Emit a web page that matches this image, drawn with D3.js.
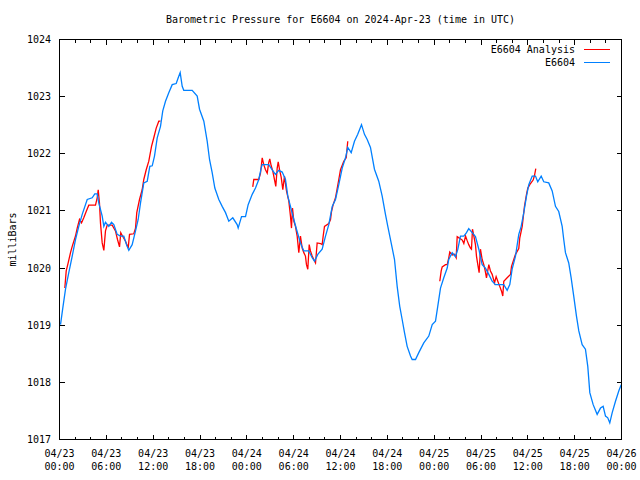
<!DOCTYPE html>
<html><head><meta charset="utf-8">
<script src="https://cdn.jsdelivr.net/npm/d3@7"></script>
<style>
body{margin:0;background:#fff;}
text{font-family:"DejaVu Sans Mono","Liberation Mono",monospace;font-size:10px;fill:#000;}
</style></head>
<body><svg id="c" width="640" height="480"></svg>
<script>
// hours since 2024-04-23 00:00 UTC
const stationHours = [0.13,0.42,0.77,1.19,1.63,2.05,2.47,2.91,3.55,4.19,4.52,4.83,5.03,5.47,5.68,5.89,6.32,6.66,6.96,7.39,7.81,8.24,8.58,8.88,9.31,9.74,10.08,10.38,10.80,11.24,11.57,11.88,12.17,12.52,12.94,13.23,13.58,14.00,14.44,14.95,15.21,15.46,15.72,15.92,17.00,17.64,17.94,18.49,18.92,19.22,19.56,19.90,20.41,20.84,21.27,21.69,22.20,22.76,22.89,23.32,23.83,24.17,24.69,25.11,25.53,25.84,25.97,26.81,27.25,27.67,28.09,28.53,28.95,29.25,29.59,30.02,30.36,30.87,31.30,31.94,32.37,32.67,33.09,33.65,34.08,34.50,34.94,35.36,35.78,36.22,36.64,36.93,37.37,37.79,38.21,38.69,39.07,39.42,39.84,40.35,40.90,41.34,41.76,42.06,42.49,42.92,43.26,43.59,43.90,44.20,44.54,44.97,45.18,45.61,46.03,46.67,47.31,47.75,48.17,48.46,48.81,49.23,49.67,49.87,50.31,50.73,51.03,51.37,51.80,52.14,52.43,52.87,53.29,53.72,54.15,54.57,55.00,55.43,55.85,56.92,57.35,57.69,57.99,58.42,58.84,59.15,59.48,59.83,60.12,60.56,60.98,61.27,61.71,62.04,62.68,63.12,63.54,63.96,64.40,64.60,64.82,65.24,65.55,65.88,66.23,66.53,66.96,67.38,67.68,67.94,68.37,68.88,69.31,69.65,69.95,70.24,70.50,70.81,71.23,71.65,71.96];
const stationPressure = [1019.01,1019.30,1019.63,1019.92,1020.21,1020.50,1020.73,1020.94,1021.20,1021.23,1021.30,1021.30,1021.14,1020.91,1020.73,1020.80,1020.73,1020.80,1020.76,1020.59,1020.56,1020.56,1020.41,1020.31,1020.41,1020.65,1020.85,1021.14,1021.49,1021.52,1021.78,1021.79,1021.96,1022.28,1022.48,1022.75,1022.92,1023.07,1023.21,1023.23,1023.33,1023.42,1023.18,1023.11,1023.11,1023.01,1022.78,1022.57,1022.22,1021.90,1021.67,1021.40,1021.20,1021.08,1020.97,1020.82,1020.88,1020.76,1020.70,1020.90,1020.90,1021.11,1021.29,1021.40,1021.55,1021.75,1021.81,1021.81,1021.72,1021.64,1021.71,1021.68,1021.55,1021.26,1021.08,1020.85,1020.68,1020.44,1020.30,1020.30,1020.18,1020.12,1020.24,1020.33,1020.56,1020.76,1021.08,1021.20,1021.46,1021.75,1021.93,1022.11,1022.02,1022.22,1022.34,1022.51,1022.34,1022.25,1022.11,1021.73,1021.52,1021.26,1020.94,1020.73,1020.44,1020.15,1019.68,1019.33,1019.10,1018.87,1018.63,1018.46,1018.40,1018.40,1018.52,1018.69,1018.81,1019.01,1019.07,1019.33,1019.65,1019.83,1020.00,1020.15,1020.27,1020.20,1020.33,1020.56,1020.56,1020.62,1020.69,1020.62,1020.55,1020.33,1020.06,1020.00,1019.89,1019.77,1019.71,1019.71,1019.61,1019.71,1019.98,1020.21,1020.59,1020.73,1020.97,1021.26,1021.46,1021.61,1021.61,1021.51,1021.61,1021.51,1021.49,1021.35,1021.08,1020.99,1020.73,1020.50,1020.27,1020.09,1019.83,1019.51,1019.16,1018.90,1018.66,1018.58,1018.28,1017.82,1017.61,1017.44,1017.55,1017.58,1017.41,1017.38,1017.29,1017.47,1017.67,1017.85,1017.96];

// analysis series, null = gap between runs
const analysisHours = [0.68,0.86,1.11,1.41,1.63,2.05,2.27,2.56,2.82,3.11,3.42,3.75,4.61,4.83,4.96,5.12,5.25,5.47,5.68,5.89,6.11,6.75,7.17,7.43,7.69,7.85,8.16,8.46,8.80,8.97,9.52,9.74,9.90,10.25,10.59,10.80,11.11,11.44,11.79,12.08,12.39,12.72,12.94,
 18.0,
 24.76,24.89,25.53,25.75,25.97,26.17,26.39,26.61,26.81,26.94,27.12,27.32,27.54,27.71,27.89,28.02,28.22,28.40,28.61,28.82,29.08,29.38,29.59,29.72,29.85,30.02,30.23,30.45,30.66,30.87,31.09,31.30,31.51,31.64,31.81,31.99,32.15,32.37,32.58,32.80,33.01,33.44,33.65,33.78,33.95,34.50,34.72,34.85,35.06,35.36,35.78,36.00,36.42,36.73,36.93,
 42.0,
 48.72,48.90,49.03,49.45,49.67,49.87,50.00,50.31,50.60,50.82,50.95,51.28,51.60,51.80,52.02,52.23,52.43,52.65,52.78,52.91,53.07,53.29,53.42,53.59,53.76,53.93,54.15,54.36,54.54,54.70,55.00,55.21,55.43,55.73,55.94,56.15,56.40,56.62,56.79,56.92,57.35,57.78,57.91,58.20,58.42,58.84,58.97,59.28,59.57,59.83,60.00,60.34,60.68,60.85,61.02];
const analysisPressure = [1019.65,1019.95,1020.09,1020.27,1020.38,1020.56,1020.70,1020.85,1020.79,1020.88,1020.99,1021.10,1021.10,1021.23,1021.37,1021.14,1020.79,1020.44,1020.31,1020.65,1020.75,1020.75,1020.65,1020.50,1020.37,1020.62,1020.54,1020.47,1020.35,1020.59,1020.60,1020.70,1020.97,1021.20,1021.37,1021.55,1021.72,1021.87,1022.13,1022.28,1022.45,1022.57,1022.57,
 null,
 1021.42,1021.55,1021.55,1021.66,1021.93,1021.81,1021.72,1021.66,1021.85,1021.91,1021.79,1021.70,1021.55,1021.43,1021.75,1021.86,1021.70,1021.59,1021.37,1021.61,1021.35,1021.17,1020.91,1020.70,1021.05,1020.82,1020.73,1020.56,1020.27,1020.56,1020.35,1020.27,1020.21,1020.06,1019.98,1020.41,1020.30,1020.21,1020.15,1020.09,1020.44,1020.43,1020.41,1020.56,1020.73,1020.78,1020.85,1020.99,1021.11,1021.23,1021.55,1021.72,1021.87,1021.93,1022.22,
 null,
 1019.77,1019.95,1020.02,1020.06,1020.06,1020.18,1020.28,1020.23,1020.24,1020.18,1020.55,1020.52,1020.49,1020.43,1020.56,1020.48,1020.41,1020.35,1020.33,1020.68,1020.57,1020.41,1020.21,1020.06,1019.92,1020.33,1020.15,1020.06,1019.95,1019.83,1020.06,1019.95,1019.89,1019.74,1019.85,1019.77,1019.68,1019.60,1019.51,1019.77,1019.83,1019.89,1020.03,1020.15,1020.24,1020.34,1020.53,1020.73,1021.08,1021.29,1021.40,1021.48,1021.54,1021.62,1021.74];

const yTicks = [1017,1018,1019,1020,1021,1022,1023,1024];
const xLabelDates = ["04/23","04/23","04/23","04/23","04/24","04/24","04/24","04/24","04/25","04/25","04/25","04/25","04/26"];
const xLabelTimes = ["00:00","06:00","12:00","18:00","00:00","06:00","12:00","18:00","00:00","06:00","12:00","18:00","00:00"];
const titleText = "Barometric Pressure for E6604 on 2024-Apr-23 (time in UTC)";
const seriesNames = ["E6604 Analysis","E6604"];
const seriesColors = ["#ff0000","#0080ff"];

const svg = d3.select("#c");
const L = 59.5, T = 39.5, W = 562, H = 400;
const x = d3.scaleLinear().domain([0,72]).range([0,W]);
const y = d3.scaleLinear().domain([1017,1024]).range([H,0]);
const g = svg.append("g").attr("transform",`translate(${L},${T})`);

svg.append("text").attr("x",L+W/2).attr("y",23).attr("text-anchor","middle").text(titleText);
svg.append("text").attr("transform",`translate(16,${T+H/2}) rotate(-90)`).attr("text-anchor","middle").text("milliBars");

// ticks
const minorX = d3.range(0,73,2);
const tk = g.append("g").attr("stroke","#000").attr("stroke-width",1).attr("shape-rendering","crispEdges");
minorX.forEach(h=>{
  const len = h%6===0 ? 5 : 3;
  tk.append("line").attr("x1",Math.round(x(h))).attr("x2",Math.round(x(h))).attr("y1",0).attr("y2",len);
  tk.append("line").attr("x1",Math.round(x(h))).attr("x2",Math.round(x(h))).attr("y1",H).attr("y2",H-len);
});
yTicks.forEach(v=>{
  tk.append("line").attr("x1",0).attr("x2",5).attr("y1",Math.round(y(v))).attr("y2",Math.round(y(v)));
  tk.append("line").attr("x1",W).attr("x2",W-5).attr("y1",Math.round(y(v))).attr("y2",Math.round(y(v)));
  svg.append("text").attr("x",51).attr("y",T+y(v)+3.5).attr("text-anchor","end").text(v);
});
xLabelDates.forEach((d,i)=>{
  const t = svg.append("text").attr("text-anchor","middle");
  t.append("tspan").attr("x",L+x(i*6)).attr("y",457).text(d);
  t.append("tspan").attr("x",L+x(i*6)).attr("y",470).text(xLabelTimes[i]);
});

// lines
const analysis = analysisHours.map((h,i)=>({h,p:analysisPressure[i]}));
const station = stationHours.map((h,i)=>({h,p:stationPressure[i]}));
const line = d3.line().defined(d=>d.p!==null).x(d=>x(d.h)).y(d=>y(d.p));
g.append("path").datum(analysis).attr("fill","none").attr("stroke",seriesColors[0]).attr("stroke-width",1.3).attr("d",line);
g.append("path").datum(station).attr("fill","none").attr("stroke",seriesColors[1]).attr("stroke-width",1.3).attr("d",line);

// border
g.append("rect").attr("x",0).attr("y",0).attr("width",W).attr("height",H).attr("fill","none").attr("stroke","#000").attr("shape-rendering","crispEdges");

// legend
seriesNames.forEach((n,i)=>{
  const yy = 49 + i*13;
  svg.append("text").attr("x",575).attr("y",yy+3.5).attr("text-anchor","end").text(n);
  svg.append("line").attr("x1",584).attr("x2",610).attr("y1",yy+0.5).attr("y2",yy+0.5).attr("stroke",seriesColors[i]).attr("stroke-width",1);
});
</script></body></html>
